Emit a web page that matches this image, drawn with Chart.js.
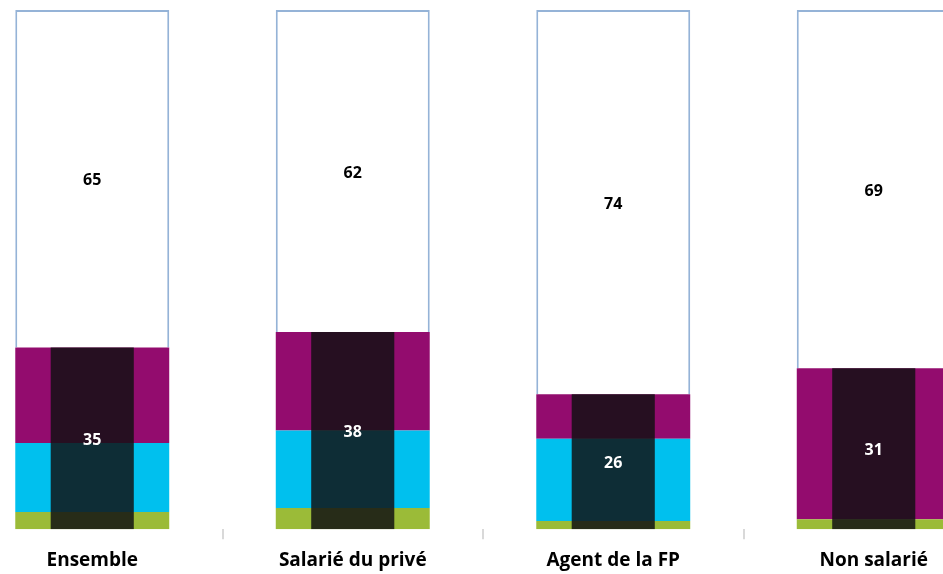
<!DOCTYPE html>
<html>
<head>
<meta charset="utf-8">
<script src="https://cdn.jsdelivr.net/npm/chart.js@4/dist/chart.umd.min.js"></script>
<style>
  html, body { margin: 0; padding: 0; background: #fff; overflow: hidden; }
  #wrap { position: absolute; left: -38px; top: 0; width: 1042px; height: 582px; }
</style>
</head>
<body>
<div id="wrap"><canvas id="myChart"></canvas></div>
<script>
const categories = ['Ensemble', 'Salarié du privé', 'Agent de la FP', 'Non salarié'];
// lower stacked parts
const greenPart = [3.3, 4.1, 1.6, 1.9];
const cyanPart = [13.3, 14.9, 15.8, 0];
const magentaPart = [18.4, 19.0, 8.6, 29.1];
// totals shown
const topPart = [65, 62, 74, 69];
const lowerTotal = [35, 38, 26, 31];

// draws the numbers in the middle of the white and dark bars
const valueLabels = {
  id: 'valueLabels',
  afterDatasetsDraw(chart) {
    const ctx = chart.ctx;
    ctx.save();
    ctx.textAlign = 'center';
    ctx.textBaseline = 'middle';
    ctx.font = 'bold 16px "Open Sans"';
    chart.data.datasets.forEach((ds, i) => {
      if (!ds.showValue) return;
      const meta = chart.getDatasetMeta(i);
      meta.data.forEach((bar, j) => {
        const y = (bar.y + bar.base) / 2 + 2;
        ctx.fillStyle = ds.valueColor;
        ctx.fillText(ds.data[j], bar.x, y);
      });
    });
    ctx.restore();
  }
};

const wide = { barPercentage: 0.591, categoryPercentage: 1, grouped: false, stack: 'main', order: 1 };

const myChartRef = document.getElementById('myChart').getContext('2d');
new Chart(myChartRef, {
  type: 'bar',
  data: {
    labels: categories,
    datasets: [
      {
        label: 'dark',
        data: lowerTotal,
        stack: 'overlay',
        grouped: false,
        backgroundColor: 'rgba(17,17,18,0.84)',
        barPercentage: 0.319,
        categoryPercentage: 1,
        order: 0,
        showValue: true,
        valueColor: '#ffffff'
      },
      { label: 'green', data: greenPart, backgroundColor: '#9bbb38', ...wide },
      { label: 'cyan', data: cyanPart, backgroundColor: '#00c0ee', ...wide },
      { label: 'magenta', data: magentaPart, backgroundColor: '#930c6e', ...wide },
      {
        label: 'white',
        data: topPart,
        backgroundColor: '#ffffff',
        borderColor: '#95b3d7',
        borderWidth: 2,
        ...wide,
        showValue: true,
        valueColor: '#000000'
      }
    ]
  },
  plugins: [valueLabels],
  options: {
    responsive: true,
    maintainAspectRatio: false,
    animation: false,
    layout: { padding: { top: 10, left: 0, right: 0, bottom: 0 } },
    plugins: { legend: { display: false }, tooltip: { enabled: false } },
    scales: {
      x: {
        stacked: true,
        border: { display: false },
        grid: { drawOnChartArea: false, drawTicks: true, tickLength: 10, color: '#d9d9d9', lineWidth: 2 },
        ticks: { color: '#000', font: { family: '"Open Sans"', size: 19, weight: 'bold' }, padding: 10 }
      },
      y: {
        display: false,
        stacked: true,
        min: 0,
        max: 100
      }
    }
  }
});
</script>
</body>
</html>
